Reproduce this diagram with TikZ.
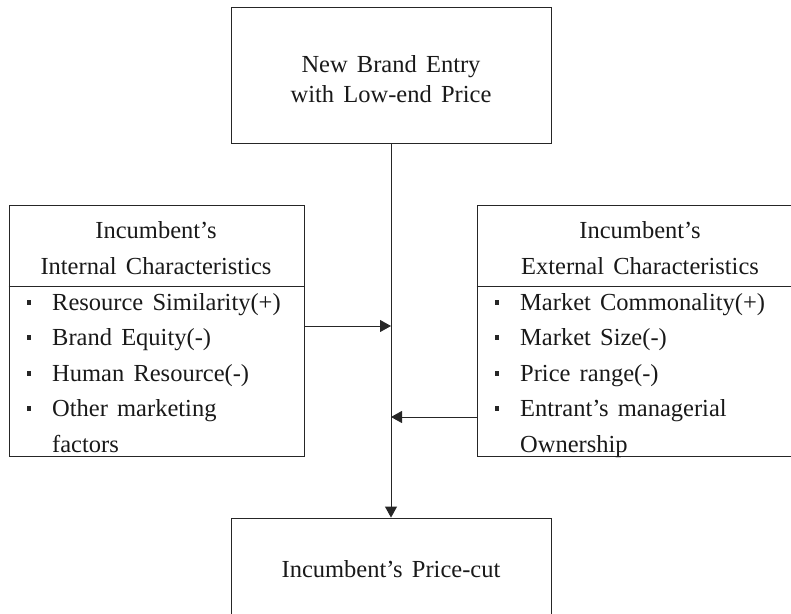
\documentclass[tikz,border=0pt]{standalone}
\usepackage{fontspec}
\setmainfont{Liberation Serif}[WordSpace=1.5]
\usetikzlibrary{arrows.meta}
\begin{document}
\begin{tikzpicture}[x=1pt,y=-1pt,
  box/.style={draw=black!85, line width=0.9pt, inner sep=0pt},
  txt/.style={font=\fontsize{24.5}{28}\selectfont, inner sep=0pt, text=black!90},
  item/.style={txt, anchor=base west},
  head/.style={txt, anchor=base},
  bul/.style={fill=black!85, inner sep=0pt, minimum width=4pt, minimum height=5pt},
  arr/.style={draw=black!85, line width=0.9pt, -{Triangle[length=11pt,width=12pt]}}]
\useasboundingbox (0,0) rectangle (791,613);
\clip (0,0) rectangle (791,613);
% boxes
\node[box, minimum width=320pt, minimum height=136pt] (top) at (391,75) {};
\node[box, minimum width=320pt, minimum height=130pt] (bot) at (391,583) {};
\node[box, minimum width=295pt, minimum height=251pt] (left) at (156.5,330.5) {};
\node[box, minimum width=330pt, minimum height=251pt] (right) at (642,330.5) {};
\draw[draw=black!85, line width=0.9pt] (left.west |- 0,286) coordinate (ld1) -- (left.east |- 0,286) coordinate (ld2);
\draw[draw=black!85, line width=0.9pt] (right.west |- 0,286) coordinate (rd1) -- (right.east |- 0,286) coordinate (rd2);
% top text
\node[head] (t1) at (391,72) {New Brand Entry};
\node[head] (t2) at (391,102) {with Low-end Price};
% bottom text
\node[head] (b1) at (391,577) {Incumbent's Price-cut};
% left
\node[head] (lh1) at (156,238) {Incumbent's};
\node[head] (lh2) at (156,274) {Internal Characteristics};
\node[bul] (lb1) at (29,302) {};
\node[item] (li1) at (52,310) {Resource Similarity(+)};
\node[bul] (lb2) at (29,337.5) {};
\node[item] (li2) at (52,345.5) {Brand Equity(-)};
\node[bul] (lb3) at (29,373) {};
\node[item] (li3) at (52,381) {Human Resource(-)};
\node[bul] (lb4) at (29,408.5) {};
\node[item] (li4) at (52,416.5) {Other marketing};
\node[item] (li5) at (52,452) {factors};
% right
\node[head] (rh1) at (640,238) {Incumbent's};
\node[head] (rh2) at (640,274) {External Characteristics};
\node[bul] (rb1) at (497,302) {};
\node[item] (ri1) at (520,310) {Market Commonality(+)};
\node[bul] (rb2) at (497,337.5) {};
\node[item] (ri2) at (520,345.5) {Market Size(-)};
\node[bul] (rb3) at (497,373) {};
\node[item] (ri3) at (520,381) {Price range(-)};
\node[bul] (rb4) at (497,408.5) {};
\node[item] (ri4) at (520,416.5) {Entrant's managerial};
\node[item] (ri5) at (520,452) {Ownership};
% connectors
\coordinate (j1) at (top.south |- 0,326);
\coordinate (j2) at (top.south |- 0,417);
\draw[arr] (top.south) -- (bot.north);
\draw[arr] (left.east |- j1) -- (j1);
\draw[arr] (right.west |- j2) -- (j2);
\end{tikzpicture}
\end{document}
